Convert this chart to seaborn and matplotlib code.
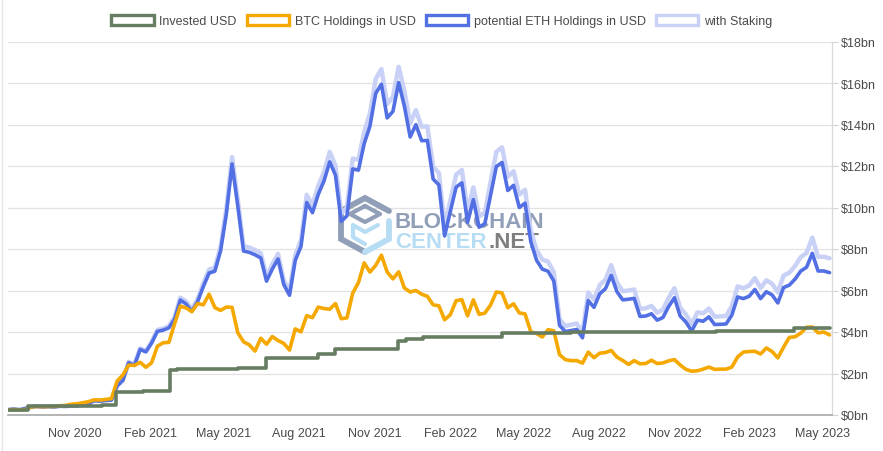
import numpy as np
import pandas as pd
import matplotlib
matplotlib.use("Agg")
import matplotlib.pyplot as plt
from matplotlib.patches import Patch
from matplotlib.lines import Line2D
import seaborn as sns

# ---------------- data ($bn) ----------------
start_date = "2020-08-11"
n_weeks = 144

btc_usd_bn = [0.25, 0.26, 0.25, 0.26, 0.39, 0.41, 0.40, 0.41, 0.41, 0.44,
              0.46, 0.52, 0.54, 0.59, 0.64, 0.73, 0.72, 0.75, 0.79, 1.64,
              1.93, 2.40, 2.39, 2.54, 2.30, 2.52, 3.31, 3.48, 3.50, 4.40,
              5.25, 5.16, 4.98, 5.37, 5.31, 5.82, 5.18, 5.04, 5.20, 5.19,
              3.96, 3.53, 3.38, 3.08, 3.70, 3.41, 3.78, 3.59, 3.45, 3.13,
              4.15, 4.01, 4.79, 4.69, 5.20, 5.13, 5.10, 5.37, 4.64, 4.68,
              5.87, 6.38, 7.33, 6.89, 7.21, 7.70, 6.89, 6.56, 6.90, 6.12,
              5.93, 6.00, 5.82, 5.72, 5.31, 5.26, 4.59, 4.84, 5.51, 5.56,
              4.78, 5.55, 4.85, 4.91, 5.30, 5.93, 5.88, 5.17, 5.36, 4.92,
              4.87, 4.01, 3.93, 3.76, 4.11, 4.06, 2.91, 2.67, 2.62, 2.62,
              2.50, 3.03, 2.76, 2.98, 3.01, 3.11, 2.79, 2.63, 2.44, 2.62,
              2.47, 2.48, 2.64, 2.48, 2.51, 2.61, 2.67, 2.41, 2.20, 2.11,
              2.13, 2.21, 2.31, 2.20, 2.21, 2.21, 2.31, 2.80, 3.03, 3.06,
              3.07, 2.94, 3.23, 3.06, 2.75, 3.27, 3.74, 3.77, 3.95, 4.23,
              4.24, 3.96, 4.00, 3.86]

eth_usd_bn = [0.25, 0.28, 0.25, 0.31, 0.38, 0.42, 0.39, 0.41, 0.39, 0.43,
              0.42, 0.45, 0.44, 0.51, 0.55, 0.69, 0.67, 0.70, 0.72, 1.40,
              1.67, 2.52, 2.39, 3.16, 3.04, 3.47, 4.03, 4.09, 4.20, 4.62,
              5.54, 5.35, 4.99, 5.46, 6.19, 6.84, 6.93, 7.91, 9.67, 12.10,
              10.07, 7.90, 7.84, 7.72, 7.57, 6.45, 7.03, 7.52, 6.29, 5.77,
              7.45, 8.13, 10.24, 9.75, 10.63, 11.28, 12.20, 11.56, 9.33, 9.60,
              11.86, 11.80, 13.08, 13.92, 15.50, 15.94, 14.32, 14.63, 16.02, 14.88,
              13.40, 13.99, 13.22, 13.23, 11.37, 11.09, 8.63, 9.82, 10.98, 11.19,
              9.29, 10.38, 9.05, 9.22, 10.60, 11.97, 12.17, 10.82, 11.07, 10.00,
              10.21, 8.35, 7.46, 7.03, 6.93, 6.46, 4.32, 4.02, 4.07, 4.12,
              3.72, 5.51, 5.19, 5.84, 6.09, 6.73, 5.94, 5.55, 5.58, 5.62,
              4.75, 4.77, 4.88, 4.57, 4.70, 5.23, 5.65, 4.77, 4.48, 4.05,
              4.57, 4.52, 4.73, 4.36, 4.37, 4.39, 4.82, 5.69, 5.61, 5.72,
              6.05, 5.61, 5.94, 5.79, 5.40, 6.14, 6.26, 6.55, 6.94, 7.12,
              7.79, 6.94, 6.94, 6.86]

eth_staking_usd_bn = [0.25, 0.28, 0.25, 0.31, 0.38, 0.42, 0.39, 0.41, 0.39, 0.43,
                      0.42, 0.45, 0.44, 0.51, 0.56, 0.70, 0.68, 0.71, 0.73, 1.42,
                      1.69, 2.56, 2.43, 3.21, 3.09, 3.53, 4.10, 4.17, 4.28, 4.71,
                      5.66, 5.47, 5.10, 5.59, 6.34, 7.01, 7.10, 8.11, 9.93, 12.43,
                      10.35, 8.13, 8.07, 7.95, 7.80, 6.65, 7.26, 7.77, 6.50, 5.97,
                      7.71, 8.42, 10.61, 10.11, 11.03, 11.71, 12.68, 12.02, 9.71, 10.00,
                      12.36, 12.30, 13.65, 14.53, 16.19, 16.67, 14.98, 15.32, 16.78, 15.60,
                      14.06, 14.69, 13.89, 13.91, 11.96, 11.67, 9.09, 10.35, 11.58, 11.81,
                      9.81, 10.97, 9.57, 9.76, 11.22, 12.68, 12.90, 11.48, 11.75, 10.62,
                      10.85, 8.88, 7.94, 7.49, 7.39, 6.89, 4.61, 4.29, 4.35, 4.41,
                      3.98, 5.90, 5.56, 6.26, 6.53, 7.22, 6.38, 5.97, 6.00, 6.05,
                      5.12, 5.14, 5.26, 4.93, 5.08, 5.65, 6.11, 5.16, 4.85, 4.39,
                      4.95, 4.90, 5.13, 4.74, 4.75, 4.77, 5.25, 6.20, 6.11, 6.24,
                      6.60, 6.12, 6.49, 6.33, 5.91, 6.72, 6.86, 7.18, 7.61, 7.81,
                      8.55, 7.62, 7.63, 7.55]

invested_dates = ["2020-08-11", "2020-09-04", "2020-12-04", "2020-12-21", "2021-01-22",
                  "2021-02-02", "2021-02-24", "2021-03-05", "2021-04-05", "2021-05-18",
                  "2021-06-21", "2021-08-24", "2021-09-13", "2021-11-29", "2021-12-09",
                  "2021-12-30", "2022-02-01", "2022-04-05", "2022-06-28", "2022-09-20",
                  "2022-12-22", "2023-03-27", "2023-04-05", "2023-05-09"]
invested_usd_bn = [0.25, 0.425, 0.475, 1.125, 1.135,
                   1.145, 2.171, 2.201, 2.231, 2.251,
                   2.741, 2.918, 3.161, 3.575, 3.657,
                   3.751, 3.776, 3.966, 3.976, 3.982,
                   4.03, 4.17, 4.18, 4.18]

series_labels = ["Invested USD", "BTC Holdings in USD",
                 "potential ETH Holdings in USD", "with Staking"]
y_ticks = [0, 2, 4, 6, 8, 10, 12, 14, 16, 18]
x_tick_dates = ["2020-11-01", "2021-02-01", "2021-05-01", "2021-08-01", "2021-11-01",
                "2022-02-01", "2022-05-01", "2022-08-01", "2022-11-01", "2023-02-01",
                "2023-05-01"]
x_tick_labels = ["Nov 2020", "Feb 2021", "May 2021", "Aug 2021", "Nov 2021",
                 "Feb 2022", "May 2022", "Aug 2022", "Nov 2022", "Feb 2023", "May 2023"]

# ---------------- styling ----------------
c_inv = "#677d62"
c_btc = "#f5a800"
c_eth = "#5270e4"
c_stk = "#c9d1f6"
txt_col = "#4a4a4a"

sns.set_theme(style="white")
plt.rcParams["font.family"] = ["Liberation Sans", "DejaVu Sans"]

W, H = 883, 452
fig = plt.figure(figsize=(W / 100, H / 100), dpi=100)
fig.patch.set_facecolor("white")


def fx(px):
    return px / W


def fy(py):
    return 1 - py / H


ax = fig.add_axes([fx(8), fy(416), fx(832) - fx(8), fy(42.5) - fy(416)])
ax.set_facecolor("white")

dates = pd.date_range(start_date, periods=n_weeks, freq="7D")
df = pd.DataFrame({"date": dates, "btc": btc_usd_bn, "eth": eth_usd_bn,
                   "stk": eth_staking_usd_bn})
inv = pd.DataFrame({"date": pd.to_datetime(invested_dates), "inv": invested_usd_bn})

sns.lineplot(data=df, x="date", y="stk", ax=ax, color=c_stk, linewidth=3.2, zorder=2)
sns.lineplot(data=df, x="date", y="eth", ax=ax, color=c_eth, linewidth=2.6, zorder=3)
sns.lineplot(data=df, x="date", y="btc", ax=ax, color=c_btc, linewidth=2.6, zorder=4)
sns.lineplot(data=inv, x="date", y="inv", ax=ax, color=c_inv, linewidth=2.6,
             drawstyle="steps-post", zorder=5)

ax.set_xlim(pd.Timestamp("2020-08-11"), pd.Timestamp("2023-05-12"))
ax.set_ylim(0, 18)
ax.set_xlabel("")
ax.set_ylabel("")

ax.yaxis.tick_right()
ax.set_yticks(y_ticks)
ax.set_yticklabels([f"${v}bn" for v in y_ticks])
ax.set_xticks(pd.to_datetime(x_tick_dates))
ax.set_xticklabels(x_tick_labels)

ax.tick_params(axis="y", which="both", right=True, left=False, length=4.5, width=0.8,
               color="#d4d4d4", labelsize=9, labelcolor=txt_col, pad=2)
ax.tick_params(axis="x", which="both", bottom=False, length=0, labelsize=9,
               labelcolor=txt_col, pad=8.5)

ax.grid(axis="y", color="#e2e2e2", linewidth=0.9)
ax.grid(axis="x", visible=False)
for s in ["top", "left"]:
    ax.spines[s].set_visible(False)
ax.spines["right"].set_color("#d9d9d9")
ax.spines["right"].set_linewidth(0.9)
ax.spines["bottom"].set_color("#a8a8a8")
ax.spines["bottom"].set_linewidth(1.2)
ax.set_axisbelow(True)

# ---------------- watermark (behind the lines) ----------------
wm_gray = "#909eb8"
wm_blue = "#b7ddf4"
ax.plot([fx(389), fx(365), fx(341), fx(341), fx(365)],
        [fy(212), fy(199), fy(212), fy(240), fy(253)],
        transform=fig.transFigure, color=wm_gray, lw=4.2, solid_joinstyle="miter",
        zorder=1, clip_on=False)
ax.plot([fx(389), fx(389), fx(365)], [fy(222), fy(240), fy(253)],
        transform=fig.transFigure, color=wm_blue, lw=4.2, solid_joinstyle="miter",
        zorder=1, clip_on=False)
ax.plot([fx(365), fx(380), fx(365), fx(350), fx(365)],
        [fy(207), fy(215), fy(223), fy(215), fy(207)],
        transform=fig.transFigure, color=wm_gray, lw=3.0, zorder=1, clip_on=False)
ax.plot([fx(378), fx(365), fx(353), fx(353), fx(365)],
        [fy(226), fy(233), fy(226), fy(238), fy(245)],
        transform=fig.transFigure, color=wm_blue, lw=3.0, zorder=1, clip_on=False)
ax.text(fx(395), fy(228), "BLOCKCHAIN", transform=fig.transFigure, fontsize=16,
        fontweight="bold", color=wm_gray, ha="left", va="baseline", zorder=1,
        family=["Liberation Sans", "DejaVu Sans"])
ax.text(fx(395), fy(248), "CENTER", transform=fig.transFigure, fontsize=16,
        fontweight="bold", color=wm_blue, ha="left", va="baseline", zorder=1,
        family=["Liberation Sans", "DejaVu Sans"])
ax.text(fx(395 + 93), fy(248), ".NET", transform=fig.transFigure, fontsize=16,
        fontweight="bold", color="#7f7f7f", ha="left", va="baseline", zorder=1,
        family=["Liberation Sans", "DejaVu Sans"])

# ---------------- legend ----------------
handles = [Patch(facecolor="white", edgecolor=c, linewidth=2.4)
           for c in [c_inv, c_btc, c_eth, c_stk]]
fig.legend(handles, series_labels, loc="center", bbox_to_anchor=(0.5, fy(22)),
           ncol=4, frameon=False, handlelength=3.4, handleheight=0.95,
           handletextpad=0.45, columnspacing=0.8, fontsize=9, labelcolor=txt_col)

# container border at the very left
fig.add_artist(Line2D([fx(2), fx(2)], [0, 1], transform=fig.transFigure,
                      color="#e6e6e6", lw=1))

fig.savefig("out.png", dpi=100)
